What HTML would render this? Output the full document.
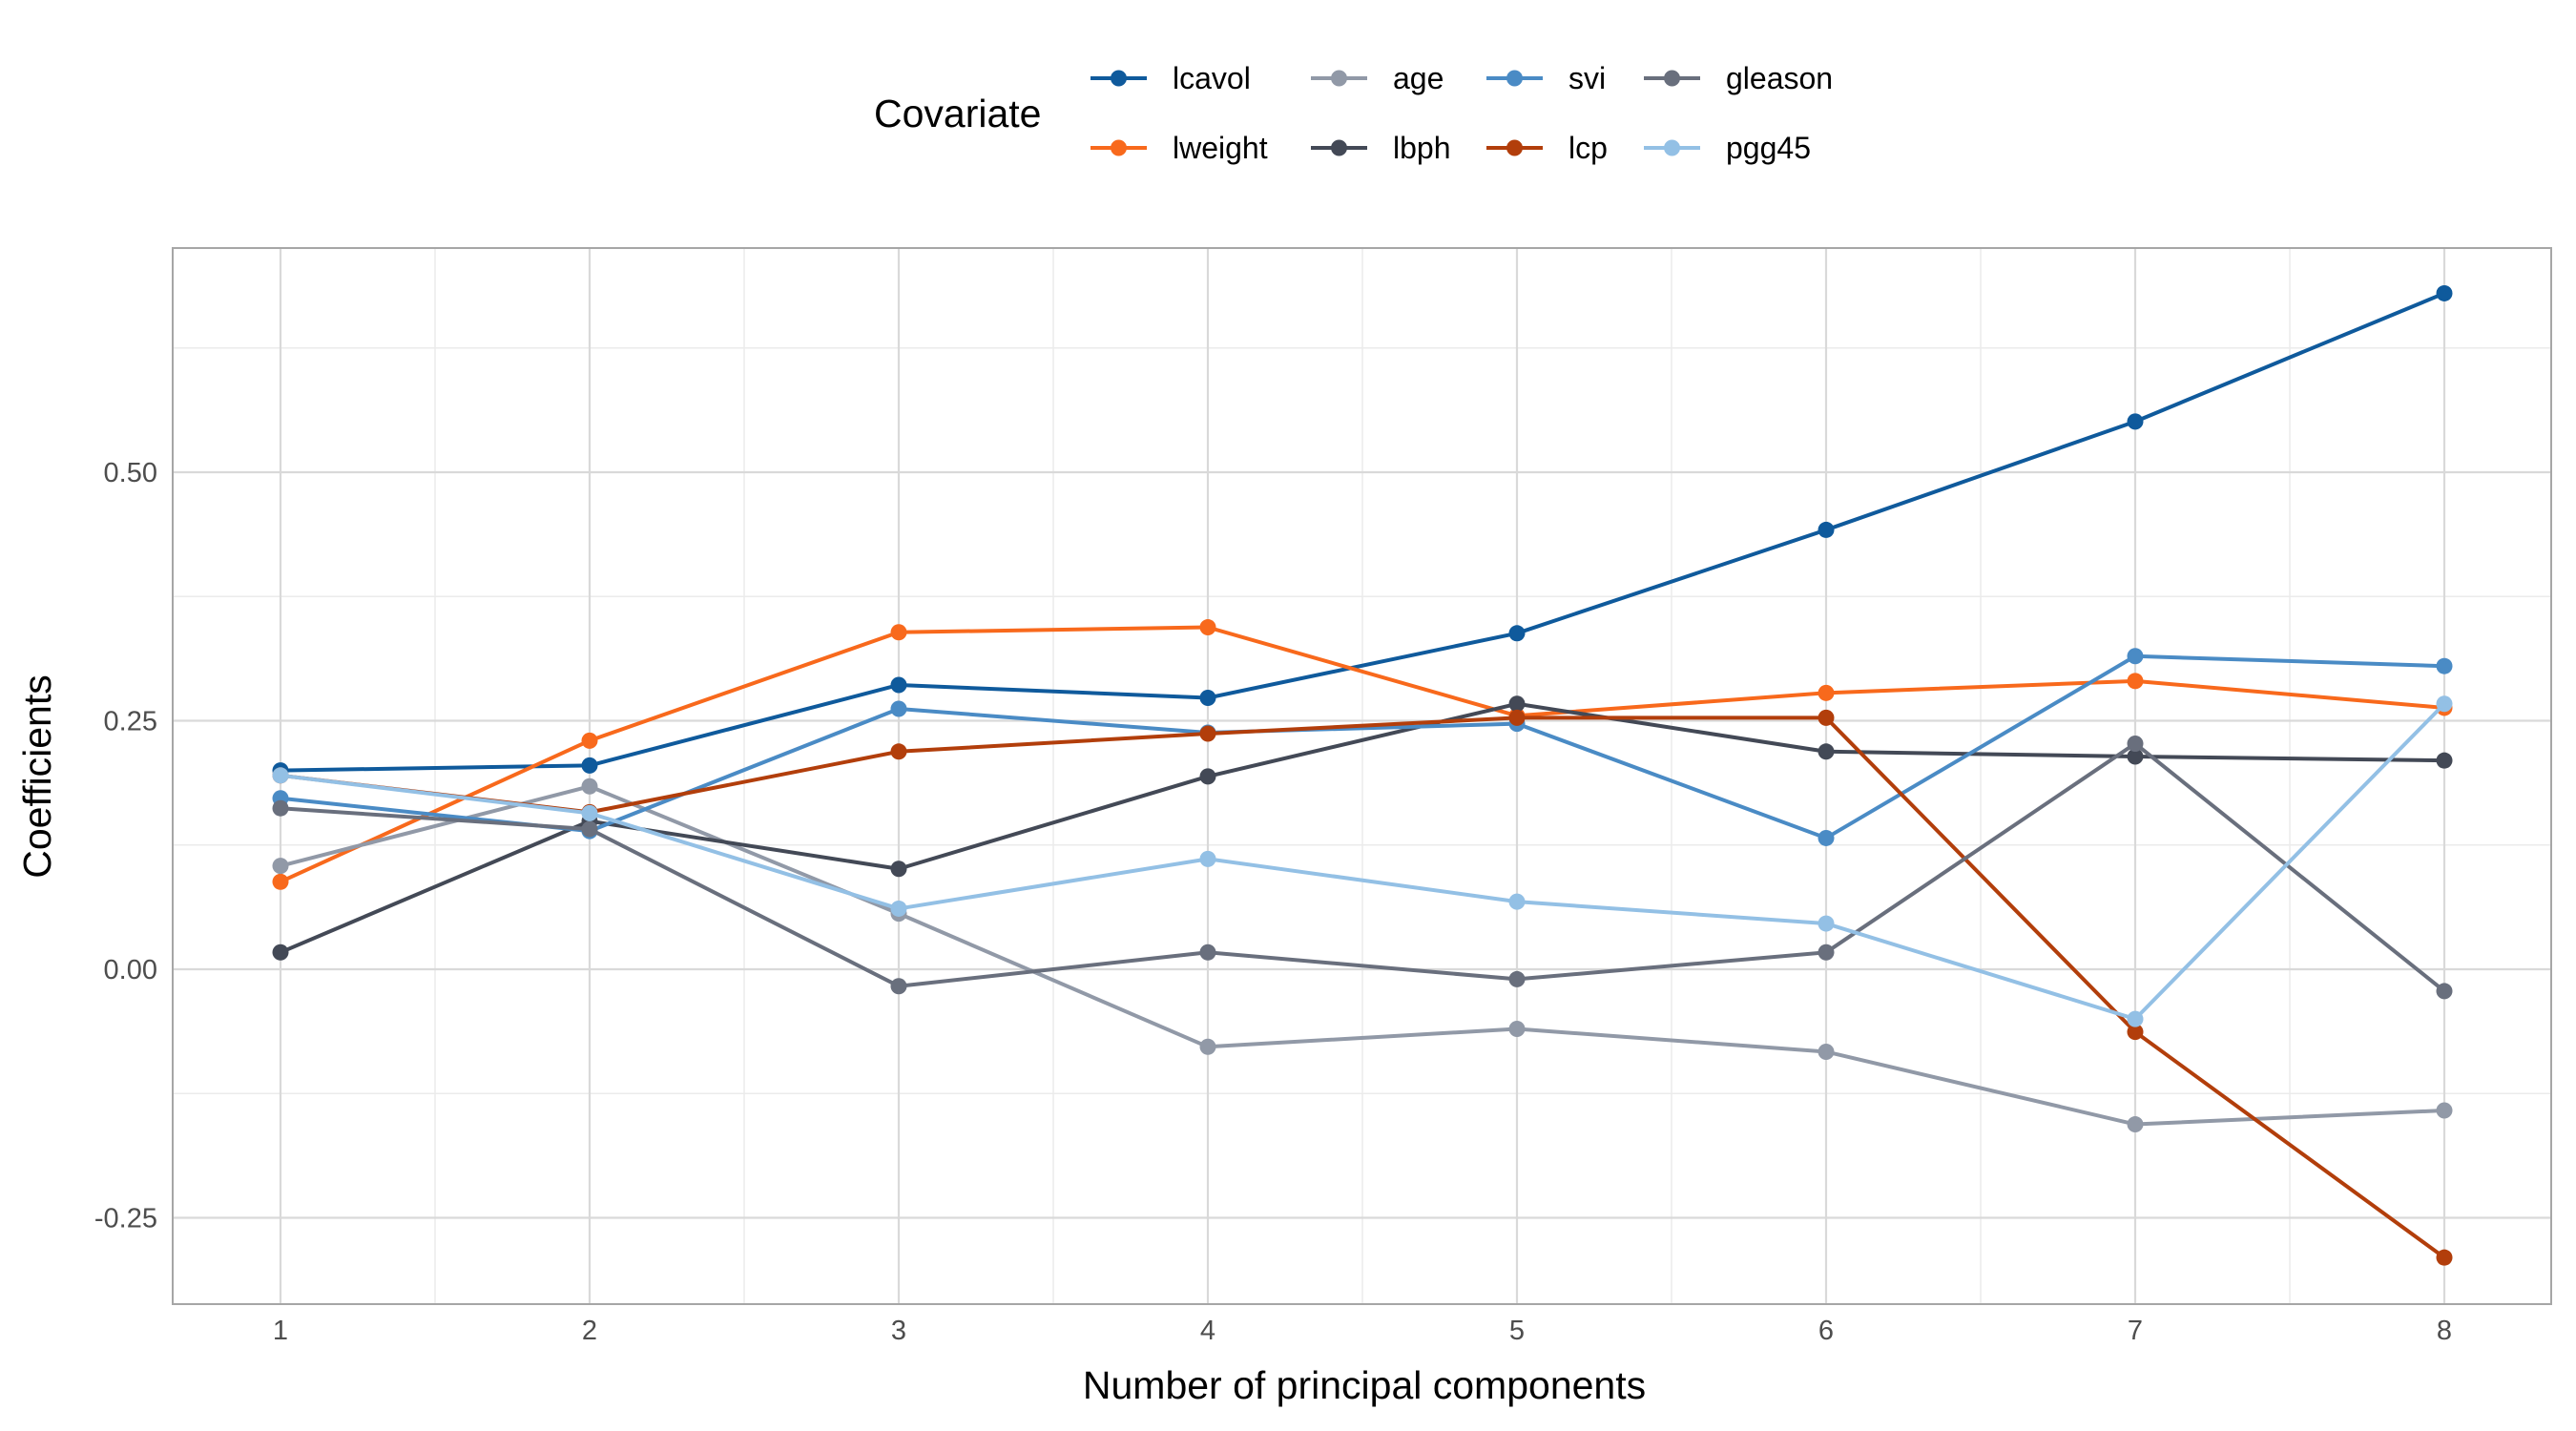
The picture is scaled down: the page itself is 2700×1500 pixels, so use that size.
<!DOCTYPE html>
<html><head><meta charset="utf-8"><style>
html,body{margin:0;padding:0;background:#fff;}
svg{display:block;font-family:"Liberation Sans",Arial,sans-serif;}
</style></head><body>
<svg id="chart" width="2700" height="1500" viewBox="0 0 2700 1500" xmlns="http://www.w3.org/2000/svg">
<rect x="0" y="0" width="2700" height="1500" fill="#fff"/>
<g id="grid"></g>
<g id="series"></g>
<rect x="181" y="260" width="2493" height="1107" fill="none" stroke="#a6a6a6" stroke-width="2"/>
<g id="axes"></g>
<text x="1430" y="1466" font-size="41" text-anchor="middle" fill="#000">Number of principal components</text>
<text transform="translate(53,814) rotate(-90)" font-size="41" text-anchor="middle" fill="#000">Coefficients</text>
<g id="legend">
<text x="916" y="133" font-size="41" fill="#000">Covariate</text>
</g>
</svg>
<script>
const categories = [1,2,3,4,5,6,7,8];
const seriesNames = ["lcavol","lweight","age","lbph","svi","lcp","gleason","pgg45"];
const lcavol  = [0.200,0.205,0.286,0.273,0.338,0.442,0.551,0.680];
const lweight = [0.088,0.230,0.339,0.344,0.255,0.278,0.290,0.263];
const age     = [0.104,0.184,0.056,-0.078,-0.060,-0.083,-0.156,-0.142];
const lbph    = [0.017,0.149,0.101,0.194,0.267,0.219,0.214,0.210];
const svi     = [0.172,0.139,0.262,0.238,0.247,0.132,0.315,0.305];
const lcp     = [0.195,0.158,0.219,0.237,0.253,0.253,-0.063,-0.290];
const gleason = [0.162,0.141,-0.017,0.017,-0.010,0.017,0.227,-0.022];
const pgg45   = [0.195,0.157,0.061,0.111,0.068,0.046,-0.050,0.267];
const yTicks = [-0.25,0.00,0.25,0.50];
const yTickLabels = ["-0.25","0.00","0.25","0.50"];
const yMinor = [-0.125,0.125,0.375,0.625];
const xTickLabels = ["1","2","3","4","5","6","7","8"];
const colors = {lcavol:"#0f5a9c",lweight:"#f8691c",age:"#9199a7",lbph:"#434956",svi:"#4a8bc5",lcp:"#b23e0b",gleason:"#696f7d",pgg45:"#93c0e5"};
const values = {lcavol,lweight,age,lbph,svi,lcp,gleason,pgg45};

const NS="http://www.w3.org/2000/svg";
const PL=181,PR=2674,PT=260,PB=1367;
function xs(v){return 294+(v-1)*(2562-294)/7;}
function ys(v){return 1016-v*1042;}
function mk(tag,attrs,parent){const e=document.createElementNS(NS,tag);for(const k in attrs)e.setAttribute(k,attrs[k]);parent.appendChild(e);return e;}

const grid=document.getElementById('grid');
yMinor.forEach(v=>{const l=mk('line',{x1:PL,x2:PR,y1:ys(v),y2:ys(v),stroke:'#ebebeb','stroke-width':1.5},grid);

});
for(let i=0;i<categories.length-1;i++){const x=xs(categories[i]+0.5);const l=mk('line',{x1:x,x2:x,y1:PT,y2:PB,stroke:'#ebebeb','stroke-width':1.5},grid);

}
yTicks.forEach(v=>{const l=mk('line',{x1:PL,x2:PR,y1:ys(v),y2:ys(v),stroke:'#d9d9d9','stroke-width':2.2},grid);

});
categories.forEach(c=>{const l=mk('line',{x1:xs(c),x2:xs(c),y1:PT,y2:PB,stroke:'#d9d9d9','stroke-width':2.2},grid);

});

const axes=document.getElementById('axes');
yTicks.forEach((v,i)=>{const t=mk('text',{x:165,y:ys(v)+10,'font-size':29,'text-anchor':'end',fill:'#4d4d4d'},axes);t.textContent=yTickLabels[i];

});
categories.forEach((c,i)=>{const t=mk('text',{x:xs(c),y:1404,'font-size':29,'text-anchor':'middle',fill:'#4d4d4d'},axes);t.textContent=xTickLabels[i];

});

const sg=document.getElementById('series');
seriesNames.forEach(n=>{
  const g=mk('g',{},sg);
  
  
  const pts=values[n].map((v,i)=>xs(categories[i])+','+ys(v)).join(' ');
  const pl=mk('polyline',{points:pts,fill:'none',stroke:colors[n],'stroke-width':4,'stroke-linejoin':'round'},g);
  
  
  values[n].forEach((v,i)=>{const c=mk('circle',{cx:xs(categories[i]),cy:ys(v),r:8.5,fill:colors[n]},g);
  
  });
});

const lg=document.getElementById('legend');
const colX=[1143,1374,1558,1723];
const rowY=[82,155];
const order=[["lcavol","lweight"],["age","lbph"],["svi","lcp"],["gleason","pgg45"]];
order.forEach((col,ci)=>col.forEach((n,ri)=>{
  const x=colX[ci],y=rowY[ri];
  const g=mk('g',{},lg);
  
  
  mk('line',{x1:x,x2:x+59,y1:y,y2:y,stroke:colors[n],'stroke-width':4},g);
  mk('circle',{cx:x+29.5,cy:y,r:8.5,fill:colors[n]},g);
  const t=mk('text',{x:x+86,y:y+11,'font-size':32,fill:'#000'},g);t.textContent=n;
}));
</script>
</body></html>
